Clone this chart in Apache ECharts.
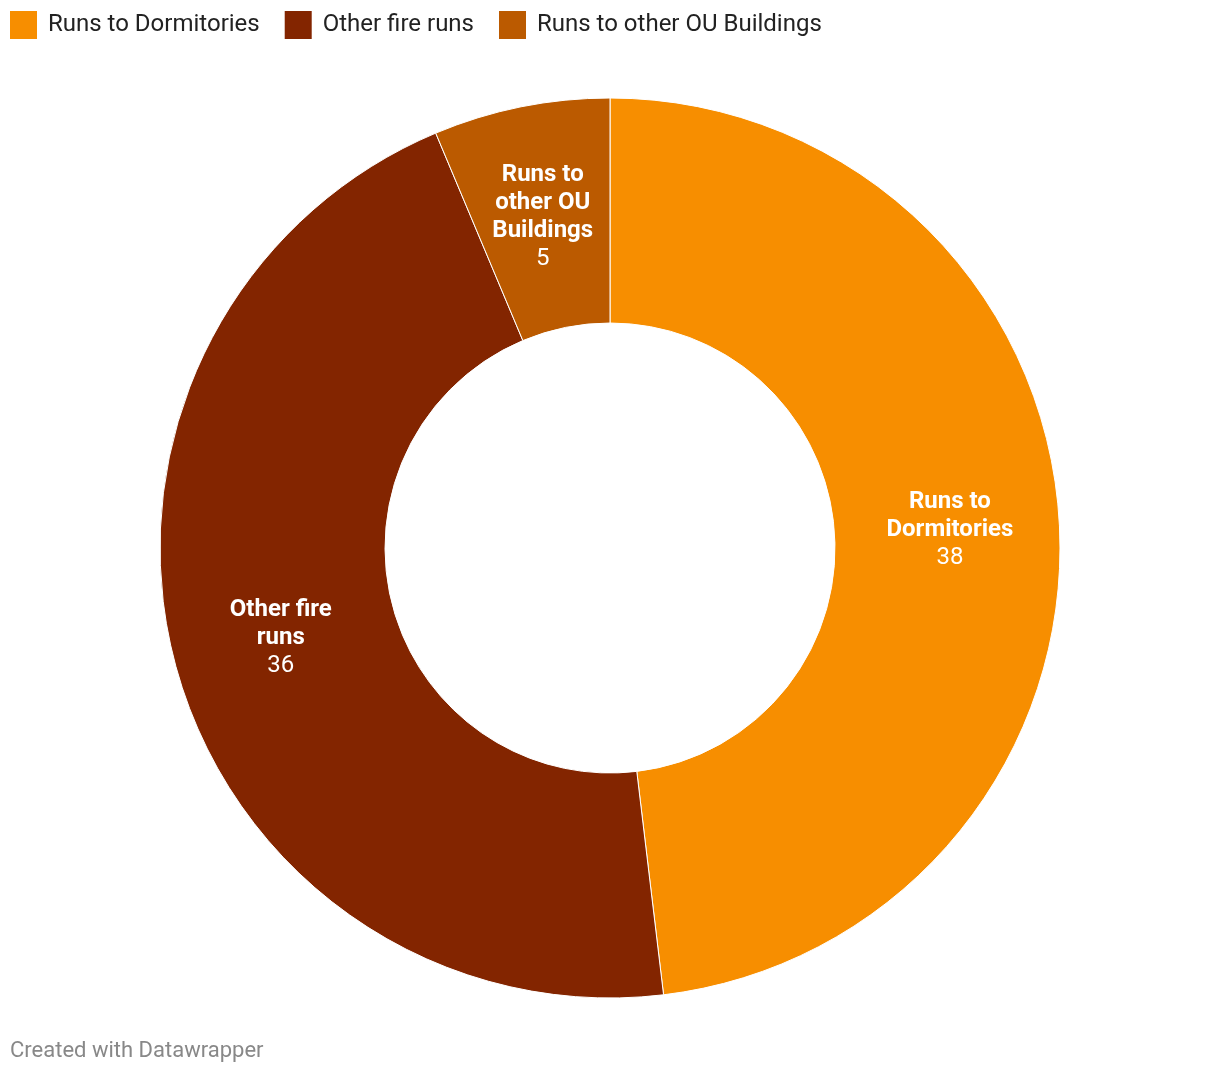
<!DOCTYPE html>
<html>
<head>
<meta charset="utf-8">
<script src="https://cdn.jsdelivr.net/npm/echarts@6/dist/echarts.min.js"></script>
<style>
html,body{margin:0;padding:0;background:#fff;}
#chart{width:1220px;height:1074px;}
</style>
</head>
<body>
<div id="chart"></div>
<script>
const categories = ["Runs to Dormitories", "Other fire runs", "Runs to other OU Buildings"];
const values = [38, 36, 5];
const colors = ["#f78e00", "#832500", "#bb5a00"];
const labelNames = ["Runs to\nDormitories", "Other fire\nruns", "Runs to\nother OU\nBuildings"];

const chart = echarts.init(document.getElementById('chart'), null, {renderer: 'canvas'});
chart.setOption({
  animation: false,
  color: colors,
  legend: {
    left: 5, top: 6,
    padding: 5,
    itemWidth: 27, itemHeight: 28, itemGap: 25,
    icon: 'rect',
    selectedMode: false,
    itemStyle: {borderWidth: 0},
    textStyle: {fontFamily: 'Roboto', fontSize: 24, color: '#222', padding: [2,0,0,6]},
    data: categories
  },
  graphic: [{
    type: 'text', left: 10, top: 1040,
    style: {text: 'Created with Datawrapper', fontFamily: 'Roboto', fontSize: 22, fill: '#888'}
  }],
  series: [{
    type: 'pie',
    center: [610, 548],
    radius: [225, 450],
    startAngle: 90,
    clockwise: true,
    itemStyle: {borderColor: '#fff', borderWidth: 1},
    emphasis: {disabled: true},
    label: {
      show: true,
      position: 'inside',
      padding: [5, 0, 0, 0],
      formatter: p => '{b|' + labelNames[p.dataIndex] + '}\n{v|' + p.value + '}',
      rich: {
        b: {fontFamily: 'Roboto', fontWeight: 'bold', fontSize: 24, color: '#fff', lineHeight: 28, align: 'center'},
        v: {fontFamily: 'Roboto', fontSize: 24, color: '#fff', lineHeight: 28, align: 'center'}
      }
    },
    labelLine: {show: false},
    data: categories.map((c, i) => ({name: c, value: values[i]}))
  }]
});
</script>
</body>
</html>
